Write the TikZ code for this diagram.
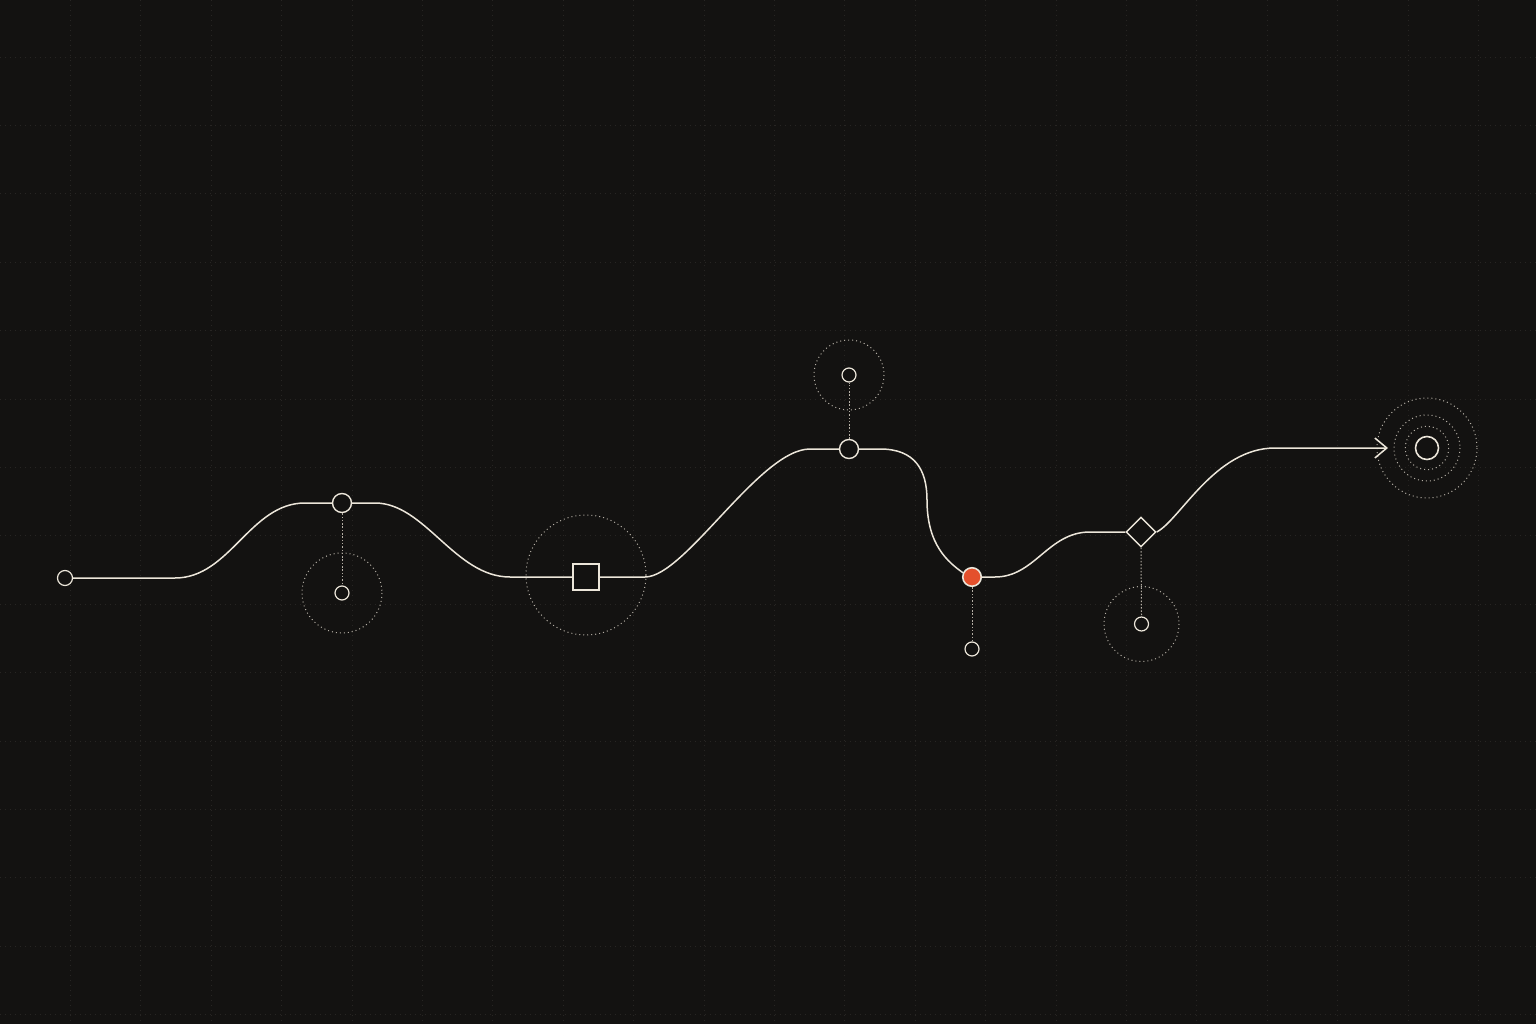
\documentclass[tikz,border=0pt]{standalone}
\usetikzlibrary{arrows.meta,shapes.geometric}
\definecolor{bg}{HTML}{131211}
\definecolor{ink}{HTML}{ECE6DA}
\definecolor{dotc}{HTML}{B4AEA4}
\definecolor{gridc}{HTML}{272523}
\definecolor{hot}{HTML}{E4502C}
\begin{document}
\begin{tikzpicture}[x=1pt,y=-1pt,
  mainline/.style={draw=ink,line width=1.5pt},
  hub/.style={circle,draw=ink,fill=bg,line width=1.4pt,inner sep=0pt,minimum size=19pt},
  sat/.style={circle,draw=ink,fill=bg,line width=1.2pt,inner sep=0pt,minimum size=14pt},
  halo/.style={draw=dotc,line width=1pt,dash pattern=on 1pt off 3pt},
  tether/.style={draw=dotc,line width=1pt,dash pattern=on 1.5pt off 1.8pt},
  gridline/.style={draw=gridc,line width=0.9pt,dash pattern=on 1pt off 4pt}]
\fill[bg] (0,0) rectangle (1536,1024);
\useasboundingbox (0,0) rectangle (1536,1024);
% faint grid
\foreach \k in {1,...,21} \draw[gridline] (70.4*\k,0) -- (70.4*\k,1024);
\foreach \k in {0,...,14} \draw[gridline] (0,57+68.4*\k) -- (1536,57+68.4*\k);
% centres
\coordinate (c1) at (342,593);
\coordinate (c2) at (849,375);
\coordinate (c3) at (972,649);
\coordinate (c4) at (1141.5,624);
\coordinate (csq) at (586,575);
\coordinate (ctg) at (1427,448);
\coordinate (tip) at (1388,448);
% halos
\draw[halo] (c1) circle[radius=40];
\draw[halo] (c2) circle[radius=35];
\draw[halo] (c4) circle[radius=37.5];
\draw[halo] (csq) circle[radius=60];
\draw[halo] (ctg) circle[radius=21.7];
\draw[halo] (ctg) circle[radius=33];
\draw[halo] (ctg) circle[radius=50];
% nodes
\node[hub,minimum size=15pt,line width=1.2pt] (start) at (65,578) {};
\node[hub] (n1) at (342,503) {};
\node[draw=ink,fill=bg,line width=1.4pt,minimum size=26pt,inner sep=0pt] (sq) at (586,577) {};
\node[hub] (n2) at (849,449) {};
\node[circle,draw=ink,fill=hot,line width=1.6pt,minimum size=18.5pt,inner sep=0pt] (red) at (972,577) {};
\node[diamond,draw=ink,fill=bg,line width=1.4pt,minimum size=30pt,inner sep=0pt] (dia) at (1141,532) {};
\node[circle,draw=ink,line width=1.6pt,minimum size=23pt,inner sep=0pt] (target) at (ctg) {};
\node[sat] (s1) at (c1) {};
\node[sat] (s2) at (c2) {};
\node[sat] (s3) at (c3) {};
\node[sat] (s4) at (c4) {};
% tethers
\draw[tether] (n1.south) -- (s1.north);
\draw[tether] (n2.north) -- (s2.south);
\draw[tether] (red.south) -- (s3.north);
\draw[tether] (dia.south) -- (s4.north);
% main path
\draw[mainline] (start.east) -- (175,578) .. controls (230,578) and (250,503) .. (305,503) -- (n1.west);
\draw[mainline] (n1.east) -- (375,503) .. controls (425,503) and (455,577) .. (510,577) -- (sq.west);
\draw[mainline] (sq.east) -- (645,577) .. controls (685,577) and (760,449) .. (810,449) -- (n2.west);
\draw[mainline] (n2.east) -- (880,449) .. controls (915,449) and (927,470) .. (927,500) .. controls (927,545) and (948,562) .. (red.155);
\draw[mainline] (red.east) -- (995,577) .. controls (1035,577) and (1048,532) .. (1090,532) -- (dia.west);
\draw[mainline,-{Straight Barb[length=12pt,width=20pt]}] (dia.east) .. controls (1180,520) and (1215,448) .. (1275,448) -- (tip);
\end{tikzpicture}
\end{document}
